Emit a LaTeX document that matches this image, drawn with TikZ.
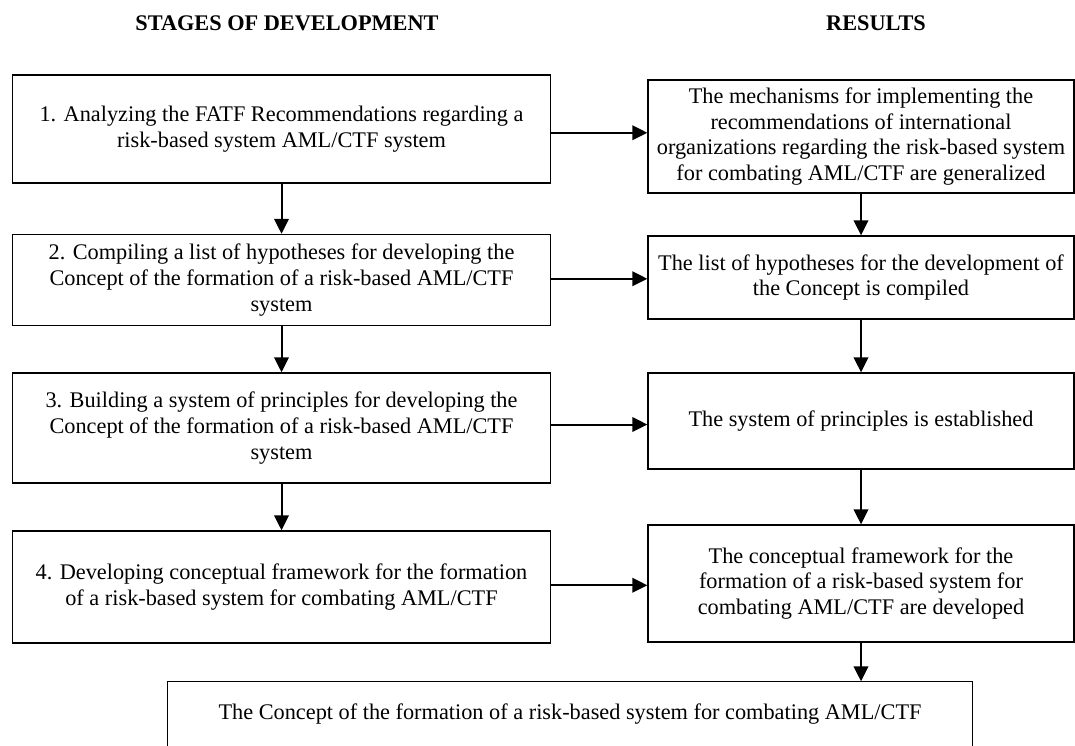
\documentclass[tikz,border=0pt]{standalone}
\usepackage{fontspec}
\setmainfont{Liberation Serif}
\usetikzlibrary{arrows.meta,calc}
\begin{document}
\begin{tikzpicture}[x=1pt,y=-1pt,
  box/.style={draw, line width=1.4pt, align=center, inner sep=0pt,
    font=\fontsize{22.3}{25.8}\selectfont},
  stagebox/.style={box, minimum width=538pt},
  resbox/.style={box, minimum width=426pt},
  arr/.style={line width=2pt, -{Triangle[length=15pt,width=14.5pt]}},
  head/.style={font=\fontsize{22.3}{26}\selectfont\bfseries}]
\useasboundingbox (0,0) rectangle (1075,745);
\clip (0,0) rectangle (1075,745);
\fill[white] (0,0) rectangle (1075,745);

% column headings
\node[head] (t1) at (287,23) {STAGES OF DEVELOPMENT};
\node[head] (t2) at (876,23) {RESULTS};

% stages (left column)
\node[stagebox, minimum height=108pt] (s1) at (281.5,129)
  {1. Analyzing the FATF Recommendations regarding a\\risk-based system AML/CTF system};
\node[stagebox, minimum height=91pt] (s2) at (281.5,280)
  {2. Compiling a list of hypotheses for developing the\\Concept of the formation of a risk-based AML/CTF\\system};
\node[stagebox, minimum height=110pt] (s3) at (281.5,428)
  {3. Building a system of principles for developing the\\Concept of the formation of a risk-based AML/CTF\\system};
\node[stagebox, minimum height=112pt] (s4) at (281.5,587)
  {4. Developing conceptual framework for the formation\\of a risk-based system for combating AML/CTF};

% results (right column)
\node[resbox, minimum height=113pt] (r1) at (861,136.5)
  {The mechanisms for implementing the\\recommendations of international\\organizations regarding the risk-based system\\for combating AML/CTF are generalized};
\node[resbox, minimum height=83pt] (r2) at (861,277.5)
  {The list of hypotheses for the development of\\the Concept is compiled};
\node[resbox, minimum height=96pt] (r3) at (861,421)
  {The system of principles is established};
\node[resbox, minimum height=117pt] (r4) at (861,583.5)
  {The conceptual framework for the\\formation of a risk-based system for\\combating AML/CTF are developed};

% final outcome (runs past the lower edge)
\node[box, draw=none, minimum width=804pt, minimum height=64pt] (fin) at (570,714)
  {The Concept of the formation of a risk-based system for combating AML/CTF};
\draw[line width=1.4pt] (fin.south west) -- (fin.north west) -- (fin.north east) -- (fin.south east);

% vertical flow
\draw[arr] (s1.south) -- (s2.north);
\draw[arr] (s2.south) -- (s3.north);
\draw[arr] (s3.south) -- (s4.north);
\draw[arr] (r1.south) -- (r2.north);
\draw[arr] (r2.south) -- (r3.north);
\draw[arr] (r3.south) -- (r4.north);
\draw[arr] (r4.south) -- (r4.south |- fin.north);

% stage -> result
\foreach \i in {1,2,3,4}{
  \coordinate (m\i) at ($(s\i.east)!0.5!(r\i.west)$);
  \draw[arr] (s\i.east |- m\i) -- (r\i.west |- m\i);
}
\end{tikzpicture}
\end{document}
